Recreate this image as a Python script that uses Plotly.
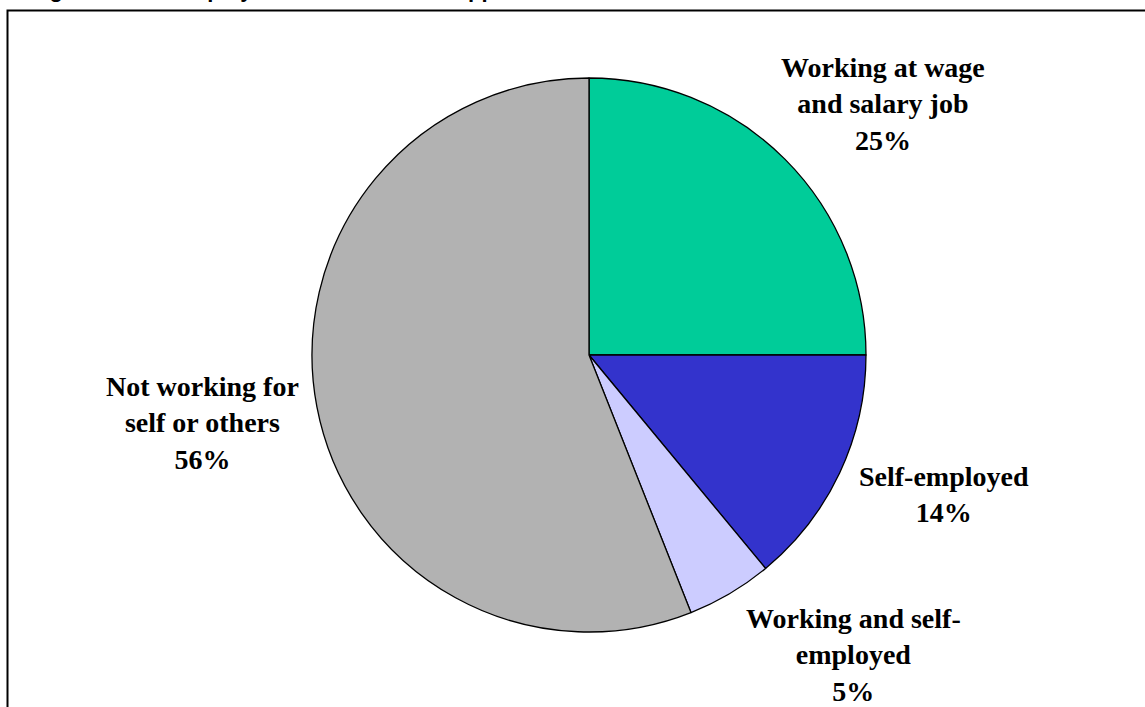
import plotly.graph_objects as go

# Data
categories = ["Working at wage<br>and salary job", "Self-employed",
              "Working and self-<br>employed", "Not working for<br>self or others"]
values = [25, 14, 5, 56]
colors = ["#00CC99", "#3333CC", "#CCCCFF", "#B2B2B2"]
title_text = "Figure 2. Self-employment Status of SSI Applicants"

W, H = 1145, 707
cx, cy, r = 589, 355, 277

fig = go.Figure(go.Pie(
    labels=[c.replace("<br>", " ") for c in categories],
    values=values,
    sort=False,
    direction="clockwise",
    rotation=0,
    marker=dict(colors=colors, line=dict(color="black", width=1.3)),
    textinfo="none",
    hoverinfo="label+percent",
    showlegend=False,
    domain=dict(x=[(cx - r) / W, (cx + r) / W],
                y=[(H - cy - r) / H, (H - cy + r) / H]),
))

# label placement (pixels from top-left): centre x, centre y
label_pos = [(883, 104), (944, 494), (853, 655), (202, 423)]
annotations = []
for cat, v, (lx, ly) in zip(categories, values, label_pos):
    annotations.append(dict(
        text=f"{cat}<br>{v}%", x=lx / W, y=1 - ly / H,
        xref="paper", yref="paper", xanchor="center", yanchor="middle",
        showarrow=False, align="center",
        font=dict(family="Liberation Serif", size=28, color="black", weight="bold"),
    ))
# title: only its lower edge shows at the very top of the page, as in the reference
annotations.append(dict(
    text=f"<b>{title_text}</b>", x=28 / W, y=1, xref="paper", yref="paper",
    xanchor="left", yanchor="bottom", yshift=-4, showarrow=False,
    font=dict(family="Liberation Sans", size=22, color="black"),
))

fig.update_layout(
    width=W, height=H,
    margin=dict(l=0, r=0, t=0, b=0),
    paper_bgcolor="white", plot_bgcolor="white",
    annotations=annotations,
    shapes=[dict(type="rect", xref="paper", yref="paper",
                 x0=7.5 / W, x1=1.02, y0=-0.02, y1=1 - 10.5 / H,
                 line=dict(color="black", width=2), layer="above")],
)

fig.write_html("out.html")
